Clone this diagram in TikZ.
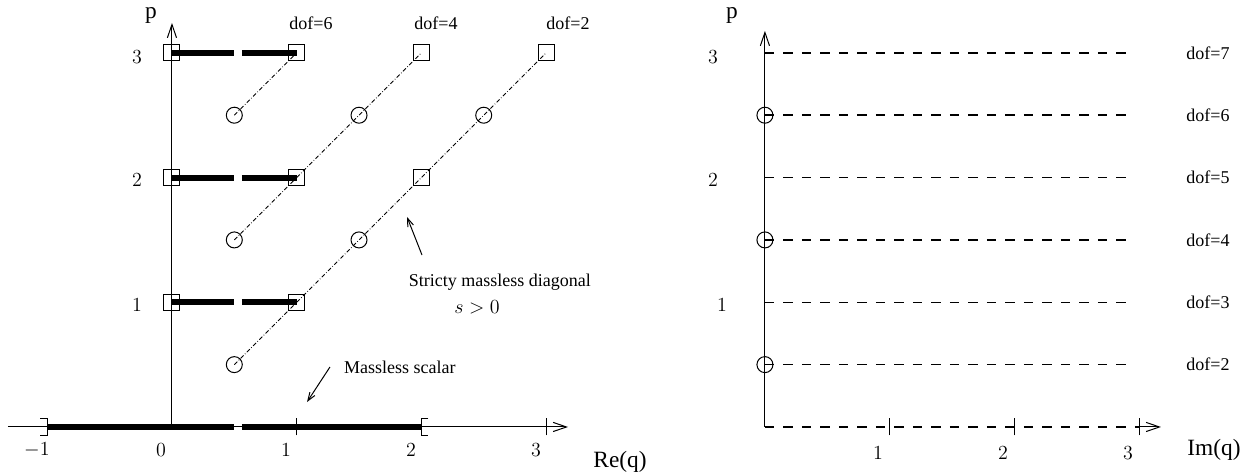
\documentclass[tikz,border=0pt]{standalone}
\usepackage[no-math]{fontspec}
\setmainfont{Liberation Serif}
\usetikzlibrary{arrows.meta, positioning}
\tikzset{
  axisline/.style  = {-{Straight Barb[length=8pt,width=5.5pt]}, line width=0.6pt, black},
  tickmark/.style  = {line width=0.6pt},
  bar/.style       = {line width=3.6pt},
  diagline/.style  = {line width=0.5pt, dash pattern=on 2.5pt off 1.2pt on 0.4pt off 1.2pt},
  dofline/.style   = {line width=0.9pt, dash pattern=on 5.5pt off 5.6pt},
  sqnode/.style    = {draw, rectangle, minimum size=9.6pt, inner sep=0pt, line width=0.6pt},
  circnode/.style  = {draw, circle, minimum size=9.6pt, inner sep=0pt, line width=0.6pt},
  annarrow/.style  = {-{Straight Barb[length=5pt,width=3.6pt]}, line width=0.6pt},
  lbl/.style       = {font=\fontsize{10.8}{12}\selectfont, inner sep=0pt},
  numlbl/.style    = {font=\fontsize{12}{14}\selectfont, inner sep=0pt},
  axlbl/.style     = {font=\fontsize{14}{16}\selectfont, inner sep=0pt},
}
\begin{document}
\begin{tikzpicture}[x=2.63cm, y=2.63cm]
  \useasboundingbox (-1.379,-0.393) rectangle (8.725,3.424);

  \coordinate (reo) at (0,0);
  \coordinate (rel) at (-1.315,0);
  \coordinate (rer) at (3.176,0);
  \coordinate (ret) at (0,3.24);
  \draw[axisline] (rel) -- (rer);
  \draw[axisline] (reo) -- (ret);
  \draw[tickmark] (1,-0.068) -- (1,0.068);
  \draw[tickmark] (3,-0.068) -- (3,0.068);

  \draw[bar] (-1,0) -- (0.5,0);
  \draw[bar] (0.56,0) -- (2,0);
  \draw[tickmark] (-1.056,0.068) -- (-1,0.068) -- (-1,-0.068) -- (-1.056,-0.068);
  \draw[tickmark] (2.056,0.068) -- (2,0.068) -- (2,-0.068) -- (2.056,-0.068);

  \node[sqnode] (s01) at (0,1) {};
  \node[sqnode] (s02) at (0,2) {};
  \node[sqnode] (s03) at (0,3) {};
  \node[sqnode] (s11) at (1,1) {};
  \node[sqnode] (s12) at (1,2) {};
  \node[sqnode] (s13) at (1,3) {};
  \node[sqnode] (s22) at (2,2) {};
  \node[sqnode] (s23) at (2,3) {};
  \node[sqnode] (s33) at (3,3) {};

  \node[circnode] (c1) at (0.5,0.5) {};
  \node[circnode] (c2) at (0.5,1.5) {};
  \node[circnode] (c3) at (0.5,2.5) {};
  \node[circnode] (c4) at (1.5,1.5) {};
  \node[circnode] (c5) at (1.5,2.5) {};
  \node[circnode] (c6) at (2.5,2.5) {};

  \draw[bar] (s01.center) -- (0.5,1);
  \draw[bar] (0.56,1) -- (s11.center);
  \draw[bar] (s02.center) -- (0.5,2);
  \draw[bar] (0.56,2) -- (s12.center);
  \draw[bar] (s03.center) -- (0.5,3);
  \draw[bar] (0.56,3) -- (s13.center);

  \draw[diagline] (c1.center) -- (s11.center) -- (c4.center) -- (s22.center)
    -- (c6.center) -- (s33.center);
  \draw[diagline] (c2.center) -- (s12.center) -- (c5.center) -- (s23.center);
  \draw[diagline] (c3.center) -- (s13.center);

  \node[axlbl] (rep) at (-0.168,3.30) {p};
  \node[numlbl] (rp3) at (-0.281,2.967) {$3$};
  \node[numlbl] (rp2) at (-0.281,1.981) {$2$};
  \node[numlbl] (rp1) at (-0.281,0.978) {$1$};
  \node[numlbl] (rqm) at (-1.083,-0.184) {$-1$};
  \node[numlbl] (rq0) at (-0.088,-0.184) {$0$};
  \node[numlbl] (rq1) at (0.914,-0.184) {$1$};
  \node[numlbl] (rq2) at (1.917,-0.184) {$2$};
  \node[numlbl] (rq3) at (2.919,-0.184) {$3$};
  \node[axlbl] (req) at (3.593,-0.281) {Re(q)};

  \node[lbl] (dof6) at (1.115,3.24) {dof=6};
  \node[lbl] (dof4) at (2.117,3.24) {dof=4};
  \node[lbl] (dof2) at (3.176,3.24) {dof=2};

  \node[lbl] (diag) at (2.630,1.163) {Stricty massless diagonal};
  \node[numlbl] (spos) at (2.446,0.962) {$s>0$};
  \coordinate (diagfrom) at (2.005,1.379);
  \coordinate (diagto) at (1.885,1.684);
  \draw[annarrow] (diagfrom) -- (diagto);

  \node[lbl] (scal) at (1.828,0.481) {Massless scalar};
  \coordinate (scalfrom) at (1.267,0.481);
  \coordinate (scalto) at (1.083,0.2);
  \draw[annarrow] (scalfrom) -- (scalto);

  \begin{scope}[shift={(4.755,0)}]
    \coordinate (imo) at (0,0);
    \coordinate (imx) at (3,0);
    \coordinate (imr) at (3.176,0);
    \coordinate (imt) at (0,3.176);
    \draw[axisline] (imo) -- (imt);
    \draw[dofline] (imo) -- (imx);
    \draw[axisline] (imx) -- (imr);
    \draw[tickmark] (1,-0.068) -- (1,0.068);
    \draw[tickmark] (2,-0.068) -- (2,0.068);
    \draw[tickmark] (3,-0.068) -- (3,0.068);

    \node[circnode] (ic1) at (0,0.5) {};
    \node[circnode] (ic2) at (0,1.5) {};
    \node[circnode] (ic3) at (0,2.5) {};

    \draw[dofline] (ic1.center) -- (2.93,0.5);
    \draw[dofline] (0,1) -- (2.93,1);
    \draw[dofline] (ic2.center) -- (2.93,1.5);
    \draw[dofline] (0,2) -- (2.93,2);
    \draw[dofline] (ic3.center) -- (2.93,2.5);
    \draw[dofline] (0,3) -- (2.93,3);

    \node[axlbl] (imp) at (-0.265,3.30) {p};
    \node[numlbl] (ip3) at (-0.417,2.967) {$3$};
    \node[numlbl] (ip2) at (-0.417,1.980) {$2$};
    \node[numlbl] (ip1) at (-0.345,0.978) {$1$};
    \node[numlbl] (iq1) at (0.906,-0.208) {$1$};
    \node[numlbl] (iq2) at (1.909,-0.208) {$2$};
    \node[numlbl] (iq3) at (2.911,-0.208) {$3$};
    \node[axlbl] (imq) at (3.601,-0.184) {Im(q)};

    \node[lbl] (idof7) at (3.553,3.0) {dof=7};
    \node[lbl] (idof6) at (3.553,2.5) {dof=6};
    \node[lbl] (idof5) at (3.553,2.0) {dof=5};
    \node[lbl] (idof4) at (3.553,1.5) {dof=4};
    \node[lbl] (idof3) at (3.553,1.0) {dof=3};
    \node[lbl] (idof2) at (3.553,0.5) {dof=2};
  \end{scope}
\end{tikzpicture}
\end{document}
